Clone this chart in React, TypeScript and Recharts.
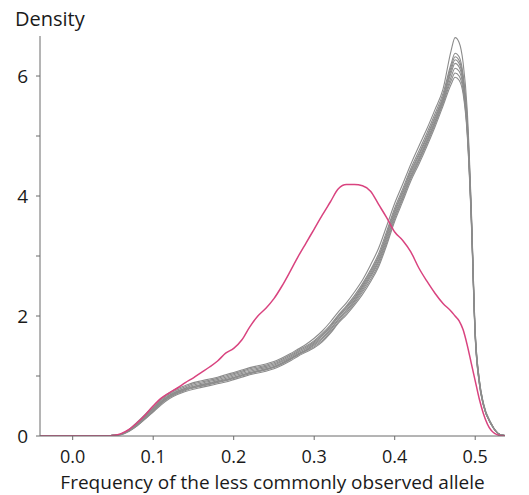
import React from 'react';
import { LineChart, Line, XAxis, YAxis } from 'recharts';

// allele frequency grid (shared by every curve)
const X_VALUES = [
  -0.04, 0, 0.04, 0.05, 0.06, 0.07, 0.08, 0.09, 0.1, 0.11, 0.12, 0.13, 0.14, 0.15, 0.16, 0.17, 0.18, 0.19,
  0.2, 0.21, 0.22, 0.23, 0.24, 0.25, 0.26, 0.27, 0.28, 0.29, 0.3, 0.31, 0.32, 0.33, 0.34, 0.35, 0.36, 0.37,
  0.38, 0.39, 0.4, 0.41, 0.42, 0.43, 0.44, 0.45, 0.46, 0.47, 0.475, 0.48, 0.485, 0.49, 0.495, 0.5, 0.505,
  0.51, 0.52, 0.53, 0.54,
];

const PINK = [
  0, 0, 0, 0.01, 0.04, 0.11, 0.22, 0.35, 0.5, 0.63, 0.72, 0.8, 0.89, 0.97, 1.06, 1.15, 1.25, 1.38,
  1.46, 1.6, 1.82, 2.0, 2.13, 2.29, 2.5, 2.74, 2.99, 3.22, 3.45, 3.68, 3.9, 4.12, 4.19, 4.19, 4.17, 4.08,
  3.86, 3.64, 3.4, 3.26, 3.07, 2.8, 2.58, 2.38, 2.21, 2.08, 2.0, 1.92, 1.77, 1.52, 1.22, 0.92, 0.62,
  0.38, 0.09, 0.01, 0,
];

const GREY_1 = [
  0, 0, 0, 0.01, 0.03, 0.11, 0.23, 0.36, 0.5, 0.62, 0.72, 0.79, 0.84, 0.89, 0.92, 0.95, 0.98, 1.02,
  1.06, 1.1, 1.14, 1.17, 1.2, 1.24, 1.3, 1.37, 1.45, 1.53, 1.63, 1.75, 1.9, 2.07, 2.22, 2.4, 2.6, 2.85,
  3.13, 3.5, 3.88, 4.2, 4.53, 4.83, 5.12, 5.44, 5.78, 6.42, 6.64, 6.56, 6.22, 5.45, 3.85, 1.75, 0.95,
  0.56, 0.21, 0.03, 0,
];
const GREY_2 = [
  0, 0, 0, 0.01, 0.03, 0.1, 0.21, 0.34, 0.47, 0.6, 0.7, 0.77, 0.82, 0.87, 0.9, 0.93, 0.96, 1.0,
  1.04, 1.08, 1.12, 1.15, 1.18, 1.22, 1.28, 1.35, 1.43, 1.5, 1.59, 1.71, 1.85, 2.02, 2.17, 2.34, 2.54, 2.77,
  3.04, 3.41, 3.8, 4.12, 4.46, 4.75, 5.05, 5.37, 5.71, 6.2, 6.38, 6.32, 6.02, 5.3, 3.8, 1.75, 0.95,
  0.55, 0.2, 0.03, 0,
];
const GREY_3 = [
  0, 0, 0, 0.01, 0.03, 0.1, 0.2, 0.33, 0.46, 0.58, 0.68, 0.75, 0.8, 0.85, 0.88, 0.91, 0.94, 0.98,
  1.02, 1.06, 1.1, 1.13, 1.16, 1.2, 1.26, 1.33, 1.41, 1.48, 1.57, 1.69, 1.83, 2.0, 2.15, 2.31, 2.51, 2.74,
  3.0, 3.37, 3.76, 4.08, 4.42, 4.7, 5.0, 5.32, 5.66, 6.15, 6.32, 6.26, 5.97, 5.25, 3.75, 1.7, 0.93,
  0.54, 0.2, 0.03, 0,
];
const GREY_4 = [
  0, 0, 0, 0.01, 0.03, 0.1, 0.2, 0.32, 0.45, 0.57, 0.67, 0.74, 0.79, 0.83, 0.86, 0.89, 0.92, 0.96,
  1.0, 1.04, 1.08, 1.11, 1.14, 1.18, 1.24, 1.31, 1.39, 1.46, 1.55, 1.67, 1.81, 1.98, 2.13, 2.29, 2.49, 2.71,
  2.97, 3.34, 3.73, 4.05, 4.39, 4.67, 4.97, 5.29, 5.63, 6.1, 6.27, 6.21, 5.93, 5.2, 3.72, 1.7, 0.92,
  0.54, 0.2, 0.03, 0,
];
const GREY_5 = [
  0, 0, 0, 0.01, 0.03, 0.09, 0.19, 0.31, 0.44, 0.56, 0.66, 0.73, 0.78, 0.82, 0.85, 0.88, 0.91, 0.94,
  0.98, 1.02, 1.06, 1.09, 1.12, 1.16, 1.22, 1.29, 1.37, 1.44, 1.53, 1.64, 1.78, 1.95, 2.1, 2.26, 2.46, 2.68,
  2.93, 3.3, 3.69, 4.01, 4.35, 4.63, 4.93, 5.25, 5.6, 6.05, 6.21, 6.15, 5.88, 5.17, 3.7, 1.68, 0.9,
  0.53, 0.19, 0.03, 0,
];
const GREY_6 = [
  0, 0, 0, 0.01, 0.03, 0.09, 0.18, 0.3, 0.42, 0.55, 0.65, 0.72, 0.77, 0.81, 0.84, 0.87, 0.9, 0.93,
  0.97, 1.01, 1.05, 1.08, 1.11, 1.15, 1.21, 1.28, 1.36, 1.43, 1.51, 1.62, 1.76, 1.93, 2.08, 2.24, 2.43, 2.65,
  2.9, 3.26, 3.66, 3.98, 4.32, 4.6, 4.9, 5.22, 5.57, 5.98, 6.13, 6.08, 5.82, 5.12, 3.68, 1.66, 0.9,
  0.53, 0.19, 0.03, 0,
];
const GREY_7 = [
  0, 0, 0, 0.01, 0.02, 0.08, 0.17, 0.29, 0.41, 0.54, 0.64, 0.71, 0.76, 0.8, 0.83, 0.86, 0.89, 0.92,
  0.96, 1.0, 1.04, 1.07, 1.1, 1.14, 1.2, 1.27, 1.35, 1.42, 1.49, 1.59, 1.73, 1.9, 2.05, 2.21, 2.4, 2.61,
  2.86, 3.22, 3.62, 3.95, 4.29, 4.57, 4.87, 5.19, 5.54, 5.92, 6.05, 6.0, 5.76, 5.08, 3.65, 1.65, 0.88,
  0.52, 0.19, 0.03, 0,
];
const GREY_8 = [
  0, 0, 0, 0.01, 0.02, 0.08, 0.17, 0.28, 0.4, 0.52, 0.62, 0.69, 0.74, 0.78, 0.81, 0.84, 0.87, 0.9,
  0.94, 0.98, 1.02, 1.05, 1.08, 1.12, 1.18, 1.25, 1.33, 1.4, 1.47, 1.57, 1.71, 1.88, 2.02, 2.18, 2.36, 2.57,
  2.82, 3.18, 3.58, 3.91, 4.25, 4.53, 4.83, 5.15, 5.5, 5.86, 5.98, 5.93, 5.7, 5.04, 3.62, 1.63, 0.88,
  0.52, 0.19, 0.03, 0,
];

const GREYS = [GREY_1, GREY_2, GREY_3, GREY_4, GREY_5, GREY_6, GREY_7, GREY_8];

const X_TICKS = [0, 0.1, 0.2, 0.3, 0.4, 0.5];
const Y_TICKS = [0, 1, 2, 3, 4, 5, 6];
const Y_LABELLED = [0, 2, 4, 6];

const data = X_VALUES.map((x, i) => {
  const row: any = { x, pink: PINK[i] };
  GREYS.forEach((g, k) => { row['g' + (k + 1)] = g[i]; });
  return row;
});

const FONT = '"Open Sans", sans-serif';
const AXIS = '#6b6b6b';

const YTick = (props: any) => {
  const { x, y, payload } = props;
  if (!Y_LABELLED.includes(payload.value)) return null;
  return (
    <text x={x} y={y} dy="0.36em" textAnchor="end" fontSize={19} fontFamily={FONT} fill="#1a1a1a">
      {payload.value}
    </text>
  );
};

export default function App() {
  return (
    <div style={{ position: 'absolute', left: 0, top: 0, width: 529, height: 495, background: '#fff' }}>
      <LineChart width={529} height={495} data={data} margin={{ top: 36, right: 24, left: 0, bottom: 0 }}>
        <XAxis
          dataKey="x"
          type="number"
          domain={[-0.0406, 0.537]}
          allowDataOverflow
          ticks={X_TICKS}
          tickFormatter={(v: number) => v.toFixed(1)}
          height={59}
          stroke={AXIS}
          tickSize={4}
          tickMargin={10}
          tick={{ fontSize: 18, fontFamily: FONT, fill: '#1a1a1a' }}
        />
        <YAxis
          type="number"
          domain={[0, 6.667]}
          allowDataOverflow
          ticks={Y_TICKS}
          width={40}
          stroke={AXIS}
          tickSize={4}
          tickMargin={8}
          tick={<YTick />}
        />
        {GREYS.map((_, k) => (
          <Line
            key={k}
            type="monotone"
            dataKey={'g' + (k + 1)}
            stroke="#8c8c8c"
            strokeWidth={1.1}
            dot={false}
            isAnimationActive={false}
          />
        ))}
        <Line
          type="monotone"
          dataKey="pink"
          stroke="#d9437f"
          strokeWidth={1.5}
          dot={false}
          isAnimationActive={false}
        />
      </LineChart>
      <div style={{ position: 'absolute', left: 15, top: 9, fontSize: 20, lineHeight: '20px', fontFamily: FONT, color: '#1a1a1a' }}>
        Density
      </div>
      <div style={{ position: 'absolute', left: 20, top: 472.5, width: 505, textAlign: 'center', fontSize: 19, lineHeight: '18px', fontFamily: FONT, color: '#1a1a1a', whiteSpace: 'nowrap' }}>
        Frequency of the less commonly observed allele
      </div>
    </div>
  );
}
